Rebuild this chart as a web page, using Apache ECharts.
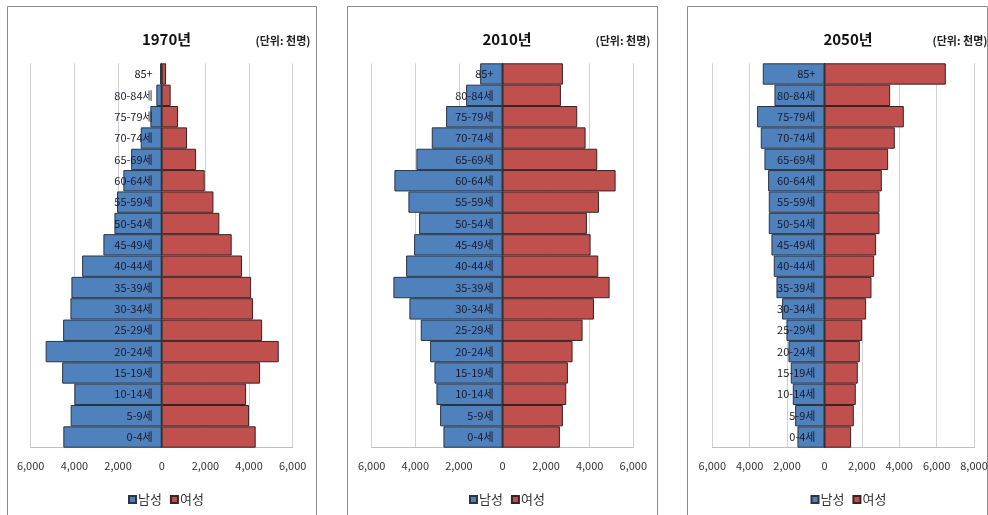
<!DOCTYPE html>
<html>
<head>
<meta charset="utf-8">
<script src="https://cdn.jsdelivr.net/npm/echarts@6/dist/echarts.min.js"></script>
<style>
html,body{margin:0;padding:0;background:#fff;}
#c{width:988px;height:515px;}
</style>
</head>
<body>
<div id="c"></div>
<script>
// Categories (bottom to top)
var ageGroups = ['0-4세','5-9세','10-14세','15-19세','20-24세','25-29세','30-34세','35-39세','40-44세','45-49세','50-54세','55-59세','60-64세','65-69세','70-74세','75-79세','80-84세','85+'];

// 1970 (thousand persons)
var male1970   = [4505,4170,4000,4560,5315,4515,4180,4135,3645,2670,2165,2045,1755,1400,960,520,245,75];
var female1970 = [4305,4000,3865,4505,5360,4600,4185,4095,3680,3205,2640,2370,1970,1575,1160,750,410,200];

// 2010
var male2010   = [2709,2862,3030,3122,3321,3750,4270,5005,4423,4056,3826,4316,4959,3950,3245,2587,1668,1025];
var female2010 = [2632,2770,2923,3000,3214,3673,4194,4913,4393,4041,3872,4423,5188,4347,3811,3428,2680,2770];

// 2050
var male2050   = [1445,1569,1694,1801,1926,2033,2265,2568,2711,2836,2978,2978,3014,3210,3406,3603,2675,3300];
var female2050 = [1427,1569,1676,1783,1890,2015,2229,2515,2657,2764,2943,2943,3068,3406,3763,4245,3513,6492];

var years = ['1970년','2010년','2050년'];
var unitText = '(단위: 천명)';
var legendNames = ['남성','여성'];
var axisRanges = [[-6000,6000],[-6000,6000],[-6000,8000]];

var FONT = '"Noto Sans CJK KR", "Noto Sans", sans-serif';
var BLUE = '#4F81BD', RED = '#C0504D';

var panels = [
  {gridLeft:30.7, gridWidth:262, titleX:161.5, unitX:278, legendX:163, box:[7,6,309,520]},
  {gridLeft:371.7, gridWidth:261.6, titleX:502, unitX:618, legendX:504, box:[347,6,310,520]},
  {gridLeft:712.3, gridWidth:261.7, titleX:843, unitX:955, legendX:845.5, box:[687,6,300,520]}
];
var maleData = [male1970, male2010, male2050];
var femaleData = [female1970, female2010, female2050];

var option = {
  animation:false,
  textStyle:{fontFamily:FONT},
  title:[], grid:[], xAxis:[], yAxis:[], series:[], legend:[], graphic:[]
};

panels.forEach(function(p,i){
  var rng = axisRanges[i];
  var zeroOffset = p.gridWidth * (0 - rng[0]) / (rng[1] - rng[0]);
  option.graphic.push({type:'rect', shape:{x:p.box[0]+0.5,y:p.box[1]+0.5,width:p.box[2],height:p.box[3]},
    style:{fill:'none', stroke:'#8c8c8c', lineWidth:1}, silent:true, z:-10});
  option.title.push({text:years[i], left:p.titleX, top:27, textAlign:'center',
    textStyle:{fontFamily:FONT, fontSize:15, fontWeight:'bold', color:'#111'}});
  option.title.push({text:unitText, left:p.unitX, top:30, textAlign:'center',
    textStyle:{fontFamily:FONT, fontSize:11, fontWeight:'bold', color:'#222'}});
  option.grid.push({left:p.gridLeft, width:p.gridWidth, top:63.3, height:384.4,
    containLabel:false, outerBoundsMode:'none'});
  option.xAxis.push({type:'value', gridIndex:i, min:rng[0], max:rng[1], interval:2000,
    axisLine:{show:true, onZero:false, lineStyle:{color:'#bfbfbf'}}, axisTick:{show:false},
    splitLine:{show:true, lineStyle:{color:'#d0d0d0'}},
    axisLabel:{margin:13, fontSize:11, color:'#333', fontFamily:FONT,
      formatter:function(v){return Math.abs(v).toLocaleString('en-US');}}});
  option.yAxis.push({type:'category', gridIndex:i, data:ageGroups, z:10, position:'left',
    offset:-zeroOffset,
    axisLine:{show:true, onZero:false, lineStyle:{color:'#333'}}, axisTick:{show:false},
    axisLabel:{margin:9, fontSize:11, color:'#1a1a2a', fontFamily:FONT, interval:0}});
  option.series.push({name:legendNames[0], type:'bar', xAxisIndex:i, yAxisIndex:i,
    data:maleData[i].map(function(v){return -v;}), barGap:'-100%', barCategoryGap:'0%',
    itemStyle:{color:BLUE, borderColor:'#2a3442', borderWidth:1}});
  option.series.push({name:legendNames[1], type:'bar', xAxisIndex:i, yAxisIndex:i,
    data:femaleData[i], barGap:'-100%', barCategoryGap:'0%',
    itemStyle:{color:RED, borderColor:'#3a2222', borderWidth:1}});
  option.legend.push({data:legendNames, left:p.legendX - 40, top:488, itemWidth:7, itemHeight:7, itemGap:8,
    icon:'rect', textStyle:{fontSize:13, color:'#333', fontFamily:FONT, padding:[0,0,0,-3]}});
});

var chart = echarts.init(document.getElementById('c'), null, {renderer:'canvas'});
chart.setOption(option);
</script>
</body>
</html>
